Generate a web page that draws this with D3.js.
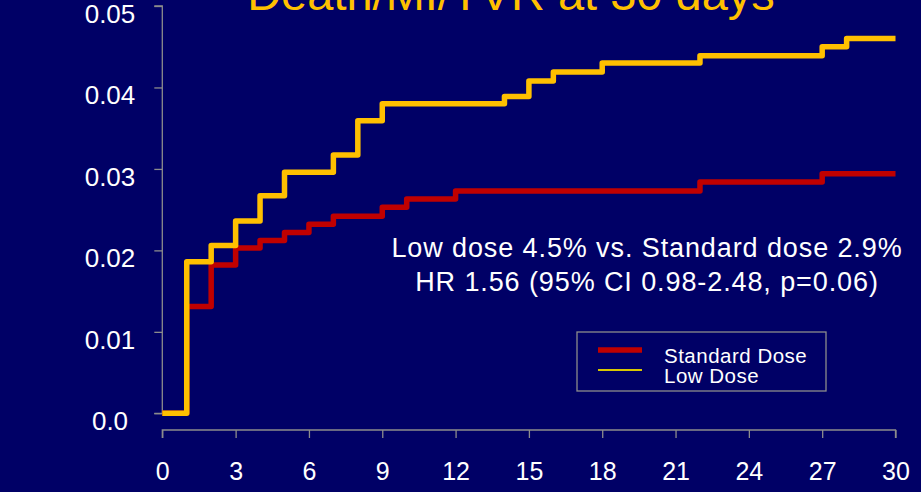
<!doctype html>
<html lang="en">
<head>
    <meta charset="UTF-8">
    <title>Death/MI/TVR at 30 days</title>
    <script src="https://d3js.org/d3.v7.min.js"></script>
    <style>
      html, body { margin: 0; padding: 0; background: #000066; }
      svg { display: block; }
      text { font-family: Arial, "Liberation Sans", sans-serif; }
    </style>
</head>
<body>
    <div id="chart"></div>

    <script>

      // Kaplan-Meier steps
      const lowDays = [0, 1, 2, 3, 4, 5, 7, 8, 9, 14, 15, 16, 18, 22, 27, 28, 30];
      const lowRisk = [0, 0.0186, 0.0206, 0.0236, 0.0267, 0.0296, 0.0317, 0.0359, 0.038,
                       0.0389, 0.0408, 0.0419, 0.043, 0.0439, 0.045, 0.046, 0.046];

      const stdDays = [0, 1, 2, 3, 4, 5, 6, 7, 9, 10, 12, 22, 27, 30];
      const stdRisk = [0, 0.0131, 0.0182, 0.0203, 0.0212, 0.0222, 0.0232, 0.0242,
                       0.0253, 0.0263, 0.0273, 0.0284, 0.0294, 0.0294];

      const xTicks = [0, 3, 6, 9, 12, 15, 18, 21, 24, 27, 30];
      const yTicks = [0, 0.01, 0.02, 0.03, 0.04, 0.05];
      const yTickLabels = ['0.0', '0.01', '0.02', '0.03', '0.04', '0.05'];

      const seriesNames = ['Standard Dose', 'Low Dose'];
      const noteLines = [
        'Low dose 4.5% vs. Standard dose 2.9%',
        'HR 1.56 (95% CI 0.98-2.48, p=0.06)'
      ];
      const title = 'Death/MI/TVR at 30 days';

      const width = 921;
      const height = 492;
      const axisGray = '#8c8c8c';
      const yellow = '#ffc000';
      const red = '#c00000';

      const x = d3.scaleLinear().domain([0, 30]).range([162.3, 895.5]);
      const y = d3.scaleLinear().domain([0, 0.05]).range([413.3, 6]);

      const svg = d3.select('#chart')
          .append('svg')
          .attr('width', width)
          .attr('height', height);

      svg.append('rect')
          .attr('width', width)
          .attr('height', height)
          .attr('fill', '#000066');

      // Title, cut off at the top like the slide
      svg.append('text')
          .attr('x', 511)
          .attr('y', 10)
          .attr('text-anchor', 'middle')
          .attr('fill', yellow)
          .attr('font-size', 47)
          .text(title);

      // y axis
      const yAxis = svg.append('g')
          .attr('transform', `translate(${x(0)},0)`)
          .call(d3.axisLeft(y).tickValues(yTicks).tickSize(8).tickFormat(''));
      yAxis.selectAll('path, line').attr('stroke', axisGray).attr('stroke-width', 1.3);
      yAxis.select('.domain').attr('d', `M-8,${y(0.05)}H0V${y(0)}H-8`);

      svg.append('g').selectAll('text')
          .data(yTicks)
          .join('text')
          .attr('x', 110)
          .attr('y', d => y(d) + 17)
          .attr('text-anchor', 'middle')
          .attr('fill', '#ffffff')
          .attr('font-size', 26)
          .text((d, i) => yTickLabels[i]);

      // x axis, sitting below the y axis
      const xAxis = svg.append('g')
          .attr('transform', 'translate(0,430)')
          .call(d3.axisBottom(x).tickValues(xTicks).tickSize(8).tickPadding(24));
      xAxis.selectAll('path, line').attr('stroke', axisGray).attr('stroke-width', 1.3);
      xAxis.select('.domain').attr('d', `M${x(0)},8V0H${x(30)}V8`);
      xAxis.selectAll('text')
          .attr('fill', '#ffffff')
          .attr('font-size', 25)
          .attr('font-family', 'Arial, "Liberation Sans", sans-serif');

      // Step curves
      const line = d3.line()
          .x(d => x(d[0]))
          .y(d => y(d[1]))
          .curve(d3.curveStepAfter);

      svg.append('path')
          .datum(d3.zip(stdDays, stdRisk))
          .attr('fill', 'none')
          .attr('stroke', red)
          .attr('stroke-width', 5.5)
          .attr('stroke-linejoin', 'round')
          .attr('d', line);

      svg.append('path')
          .datum(d3.zip(lowDays, lowRisk))
          .attr('fill', 'none')
          .attr('stroke', yellow)
          .attr('stroke-width', 5.5)
          .attr('stroke-linejoin', 'round')
          .attr('d', line);

      // Annotation
      svg.append('g').selectAll('text')
          .data(noteLines)
          .join('text')
          .attr('x', 647)
          .attr('y', (d, i) => 257 + i * 34)
          .attr('text-anchor', 'middle')
          .attr('fill', '#ffffff')
          .attr('font-size', 27)
          .attr('letter-spacing', 0.9)
          .text(d => d);

      // Legend
      const legend = svg.append('g');
      legend.append('rect')
          .attr('x', 577)
          .attr('y', 332)
          .attr('width', 249)
          .attr('height', 59)
          .attr('fill', 'none')
          .attr('stroke', axisGray)
          .attr('stroke-width', 1.3);

      const legendColors = [red, '#d8c800'];
      const legendWidths = [5.5, 2];
      seriesNames.forEach((name, i) => {
        legend.append('line')
            .attr('x1', 598)
            .attr('x2', 642)
            .attr('y1', 350 + i * 20)
            .attr('y2', 350 + i * 20)
            .attr('stroke', legendColors[i])
            .attr('stroke-width', legendWidths[i]);
        legend.append('text')
            .attr('x', 664)
            .attr('y', 363 + i * 20)
            .attr('fill', '#ffffff')
            .attr('font-size', 20.5)
            .attr('letter-spacing', 0.5)
            .text(name);
      });

    </script>

</body>
</html>
